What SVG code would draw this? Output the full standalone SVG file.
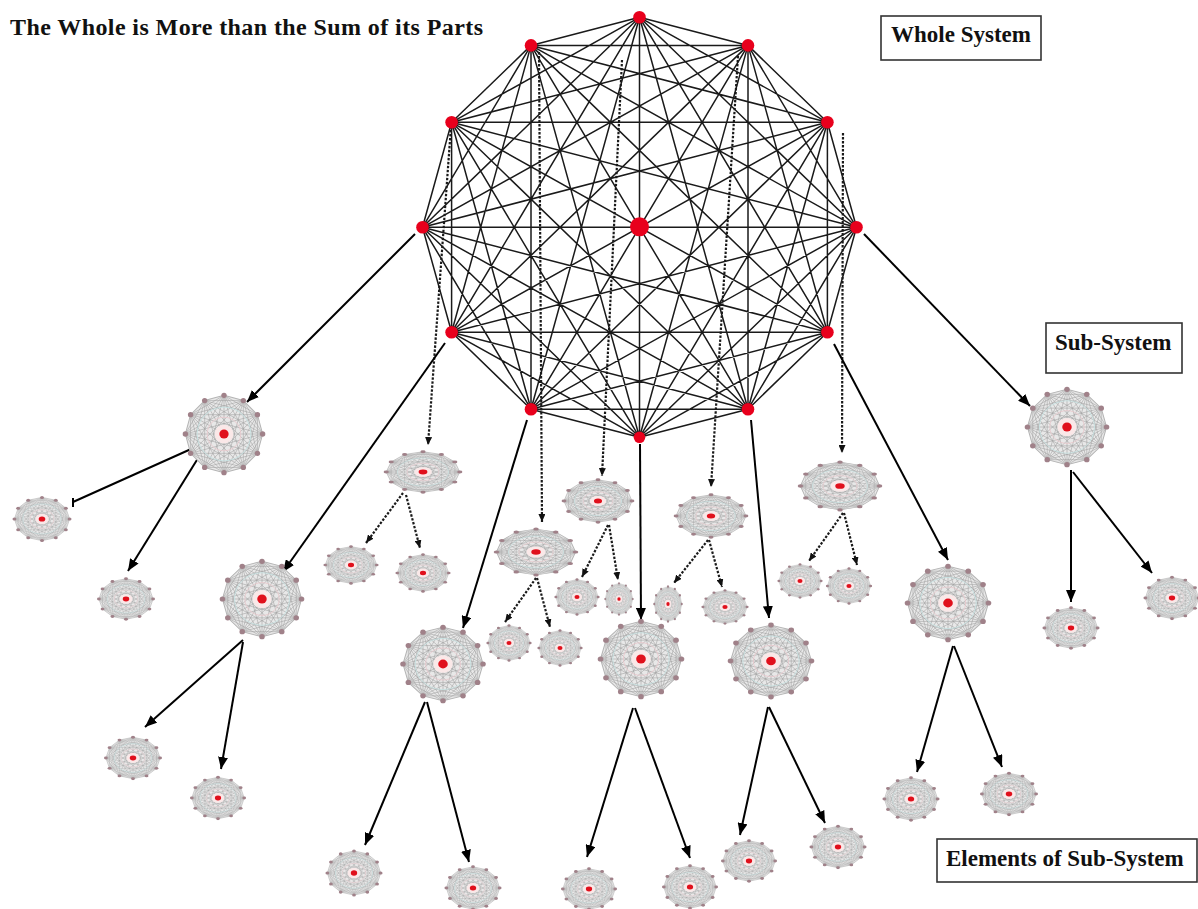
<svg xmlns="http://www.w3.org/2000/svg" xmlns:xlink="http://www.w3.org/1999/xlink" width="1198" height="909" viewBox="0 0 1198 909">
  <style>
    .lbl { font-family: "Liberation Serif", "Times New Roman", serif; font-weight: bold; fill: #111; }
    .box { fill: #fff; stroke: #333; stroke-width: 1.6; }
    .edge { fill: none; stroke: #1a1a1a; stroke-width: 1.5; stroke-linejoin: round; }
    .vdot { fill: #e8001c; }
    .solid { stroke: #000; stroke-width: 2; fill: none; marker-end: url(#ah); }
    .dot { stroke: #1a1a1a; stroke-width: 2.2; stroke-dasharray: 2.4 1.6; fill: none; marker-end: url(#ahs); }
  </style>
  <defs>
    <marker id="ah" viewBox="0 0 12 10" refX="12" refY="5" markerWidth="12" markerHeight="10" markerUnits="userSpaceOnUse" orient="auto">
      <path d="M0,0 L12,5 L0,10 Z" fill="#000"/>
    </marker>
    <marker id="ahs" viewBox="0 0 8 7" refX="8" refY="3.5" markerWidth="8" markerHeight="7" markerUnits="userSpaceOnUse" orient="auto">
      <path d="M0,0 L8,3.5 L0,7 Z" fill="#111"/>
    </marker>
    <!-- miniature complete graph used for sub-systems and their elements -->
    <symbol id="mini" viewBox="-50 -50 100 100" preserveAspectRatio="none">
      <polygon points="0,-46 23,-39.8 39.8,-23 46,0 39.8,23 23,39.8 0,46 -23,39.8 -39.8,23 -46,0 -39.8,-23 -23,-39.8" fill="#e8e8e8" stroke="#b4b4b4" stroke-width="1.2"/>
      <path fill="none" stroke="#a2a2a2" stroke-width="0.7" d="
        M0,-46 L23,39.8 L-39.8,-23 L46,0 L-39.8,23 L23,-39.8 L0,46 L-23,-39.8 L39.8,23 L-46,0 L39.8,-23 L-23,39.8 Z
        M0,-46 L39.8,-23 L39.8,23 L0,46 L-39.8,23 L-39.8,-23 Z
        M23,-39.8 L46,0 L23,39.8 L-23,39.8 L-46,0 L-23,-39.8 Z
        M0,-46 L46,0 L0,46 L-46,0 Z
        M23,-39.8 L39.8,23 L-23,39.8 L-39.8,-23 Z
        M39.8,-23 L23,39.8 L-39.8,23 L-23,-39.8 Z
        M0,-46 L39.8,23 L-39.8,23 Z
        M23,-39.8 L23,39.8 L-46,0 Z
        M39.8,-23 L0,46 L-39.8,-23 Z
        M46,0 L-23,39.8 L-23,-39.8 Z
        M0,-46 L0,46 M23,-39.8 L-23,39.8 M39.8,-23 L-39.8,23 M46,0 L-46,0 M39.8,23 L-39.8,-23 M23,39.8 L-23,-39.8"/>
      <circle r="32" fill="none" stroke="#c6e2e2" stroke-width="1"/>
      <circle r="20" fill="none" stroke="#e8c8cc" stroke-width="1"/>
      <circle r="11" fill="#fae8e8"/>
      <circle r="5.5" fill="#e0101c"/>
      <g fill="#a08189">
        <circle cx="0" cy="-46" r="3.2"/><circle cx="23" cy="-39.8" r="3.2"/><circle cx="39.8" cy="-23" r="3.2"/>
        <circle cx="46" cy="0" r="3.2"/><circle cx="39.8" cy="23" r="3.2"/><circle cx="23" cy="39.8" r="3.2"/>
        <circle cx="0" cy="46" r="3.2"/><circle cx="-23" cy="39.8" r="3.2"/><circle cx="-39.8" cy="23" r="3.2"/>
        <circle cx="-46" cy="0" r="3.2"/><circle cx="-39.8" cy="-23" r="3.2"/><circle cx="-23" cy="-39.8" r="3.2"/>
      </g>
    </symbol>
  </defs>

  <rect width="1198" height="909" fill="#fff"/>

  <!-- title and labels -->
  <text class="lbl" x="10" y="35" font-size="24" textLength="473" lengthAdjust="spacing">The Whole is More than the Sum of its Parts</text>

  <g id="label-whole">
    <rect class="box" x="881" y="16" width="160" height="44"/>
    <text class="lbl" x="891" y="42" font-size="23">Whole System</text>
  </g>
  <g id="label-sub">
    <rect class="box" x="1046" y="323" width="136" height="50"/>
    <text class="lbl" x="1055" y="350" font-size="23">Sub-System</text>
  </g>
  <g id="label-elements">
    <rect class="box" x="937" y="839" width="260" height="43"/>
    <text class="lbl" x="946" y="866" font-size="23">Elements of Sub-System</text>
  </g>

  <!-- whole system: complete graph on 12 vertices -->
  <g id="whole-system">
    <path class="edge" d="
      M639.5,17.3 L748,45.4 L827.4,122.3 L856.5,227.3 L827.4,332.3 L748,409.2 L639.5,437.3 L531,409.2 L451.6,332.3 L422.5,227.3 L451.6,122.3 L531,45.4 Z
      M639.5,17.3 L748,409.2 L451.6,122.3 L856.5,227.3 L451.6,332.3 L748,45.4 L639.5,437.3 L531,45.4 L827.4,332.3 L422.5,227.3 L827.4,122.3 L531,409.2 Z
      M639.5,17.3 L827.4,122.3 L827.4,332.3 L639.5,437.3 L451.6,332.3 L451.6,122.3 Z
      M748,45.4 L856.5,227.3 L748,409.2 L531,409.2 L422.5,227.3 L531,45.4 Z
      M639.5,17.3 L856.5,227.3 L639.5,437.3 L422.5,227.3 Z
      M748,45.4 L827.4,332.3 L531,409.2 L451.6,122.3 Z
      M827.4,122.3 L748,409.2 L451.6,332.3 L531,45.4 Z
      M639.5,17.3 L827.4,332.3 L451.6,332.3 Z
      M748,45.4 L748,409.2 L422.5,227.3 Z
      M827.4,122.3 L639.5,437.3 L451.6,122.3 Z
      M856.5,227.3 L531,409.2 L531,45.4 Z
      M639.5,17.3 L639.5,437.3 M748,45.4 L531,409.2 M827.4,122.3 L451.6,332.3
      M856.5,227.3 L422.5,227.3 M827.4,332.3 L451.6,122.3 M748,409.2 L531,45.4"/>
  </g>

  <!-- connectors -->
  <g id="connectors">
    <!-- dotted links from the whole system -->
    <path class="dot" d="M451,126 L428,445"/>
    <path class="dot" d="M539,52 L542,522"/>
    <path class="dot" d="M622,60 L602,476"/>
    <path class="dot" d="M738,56 L711,487"/>
    <path class="dot" d="M843,133 L842,453"/>
    <!-- dotted links to elements -->
    <path class="dot" d="M403,493 L366,543"/>
    <path class="dot" d="M406,495 L420,548"/>
    <path class="dot" d="M536,578 L505,622"/>
    <path class="dot" d="M537,578 L550,627"/>
    <path class="dot" d="M608,525 L582,577"/>
    <path class="dot" d="M609,525 L618,580"/>
    <path class="dot" d="M708,540 L674,583"/>
    <path class="dot" d="M709,540 L722,587"/>
    <path class="dot" d="M843,513 L809,561"/>
    <path class="dot" d="M844,513 L857,565"/>
    <!-- solid links from the whole system -->
    <path class="solid" d="M415,234 L247,402"/>
    <path class="solid" d="M445,343 L283,572"/>
    <path class="solid" d="M527,420 L463,628"/>
    <path class="solid" d="M640,444 L641,620"/>
    <path class="solid" d="M751,420 L769,618"/>
    <path class="solid" d="M834,344 L948,560"/>
    <path class="solid" d="M864,234 L1030,406"/>
    <!-- solid links to elements -->
    <path d="M200,445 L73,502 M73,498 L73,507" stroke="#000" stroke-width="2" fill="none"/>
    <path class="solid" d="M200,455 L128,571"/>
    <path class="solid" d="M243,640 L145,727"/>
    <path class="solid" d="M243,642 L221,769"/>
    <path class="solid" d="M425,702 L365,845"/>
    <path class="solid" d="M427,702 L469,862"/>
    <path class="solid" d="M633,708 L587,857"/>
    <path class="solid" d="M635,708 L690,858"/>
    <path class="solid" d="M768,707 L740,835"/>
    <path class="solid" d="M769,707 L825,823"/>
    <path class="solid" d="M953,646 L917,772"/>
    <path class="solid" d="M954,646 L1002,767"/>
    <path class="solid" d="M1071,470 L1071,602"/>
    <path class="solid" d="M1073,472 L1152,573"/>
  </g>

  <!-- whole system vertices -->
  <g id="whole-vertices" class="vdot">
    <circle cx="639.5" cy="17.3" r="6.3"/><circle cx="748" cy="45.4" r="6.3"/>
    <circle cx="827.4" cy="122.3" r="6.3"/><circle cx="856.5" cy="227.3" r="6.3"/>
    <circle cx="827.4" cy="332.3" r="6.3"/><circle cx="748" cy="409.2" r="6.3"/>
    <circle cx="639.5" cy="437.3" r="5.8"/><circle cx="531" cy="409.2" r="6.3"/>
    <circle cx="451.6" cy="332.3" r="6.3"/><circle cx="422.5" cy="227.3" r="6.3"/>
    <circle cx="451.6" cy="122.3" r="6.3"/><circle cx="531" cy="45.4" r="6.3"/>
    <circle cx="639.5" cy="226.8" r="9.5"/>
  </g>

  <!-- sub-systems -->
  <g id="sub-a"><use href="#mini" x="182" y="392" width="84" height="84"/></g>
  <g id="sub-b"><use href="#mini" x="1024" y="386" width="86" height="82"/></g>
  <g id="sub-c"><use href="#mini" x="383" y="450" width="80" height="44"/></g>
  <g id="sub-d"><use href="#mini" x="493" y="527" width="86" height="50"/></g>
  <g id="sub-e"><use href="#mini" x="561" y="478" width="74" height="46"/></g>
  <g id="sub-f"><use href="#mini" x="673" y="493" width="76" height="46"/></g>
  <g id="sub-g"><use href="#mini" x="797" y="460" width="86" height="52"/></g>
  <g id="sub-h"><use href="#mini" x="219" y="558" width="86" height="82"/></g>
  <g id="sub-i"><use href="#mini" x="399.5" y="624" width="87" height="80"/></g>
  <g id="sub-j"><use href="#mini" x="597" y="618" width="88" height="82"/></g>
  <g id="sub-k"><use href="#mini" x="727" y="622" width="88" height="78"/></g>
  <g id="sub-l"><use href="#mini" x="904" y="563" width="88" height="80"/></g>

  <!-- elements of sub-systems -->
  <g id="elem-a1"><use href="#mini" x="12" y="495.5" width="60" height="47"/></g>
  <g id="elem-a2"><use href="#mini" x="96.5" y="577" width="59" height="44"/></g>
  <g id="elem-c1"><use href="#mini" x="323" y="545" width="56" height="40"/></g>
  <g id="elem-c2"><use href="#mini" x="395" y="553" width="56" height="40"/></g>
  <g id="elem-d1"><use href="#mini" x="486" y="624" width="46" height="38"/></g>
  <g id="elem-d2"><use href="#mini" x="537" y="629" width="46" height="38"/></g>
  <g id="elem-e1"><use href="#mini" x="554" y="578" width="46" height="38"/></g>
  <g id="elem-e2"><use href="#mini" x="604" y="582" width="30" height="34"/></g>
  <g id="elem-f1"><use href="#mini" x="653" y="585" width="30" height="38"/></g>
  <g id="elem-f2"><use href="#mini" x="701" y="589" width="48" height="36"/></g>
  <g id="elem-g1"><use href="#mini" x="777" y="563" width="46" height="36"/></g>
  <g id="elem-g2"><use href="#mini" x="825.5" y="567" width="47" height="38"/></g>
  <g id="elem-h1"><use href="#mini" x="103.5" y="735.5" width="59" height="45"/></g>
  <g id="elem-h2"><use href="#mini" x="189.5" y="775.5" width="57" height="45"/></g>
  <g id="elem-i1"><use href="#mini" x="325" y="849" width="58" height="48"/></g>
  <g id="elem-i2"><use href="#mini" x="444" y="865" width="58" height="46"/></g>
  <g id="elem-j1"><use href="#mini" x="560.5" y="867" width="57" height="44"/></g>
  <g id="elem-j2"><use href="#mini" x="661.5" y="864" width="57" height="46"/></g>
  <g id="elem-k1"><use href="#mini" x="720.5" y="839" width="57" height="44"/></g>
  <g id="elem-k2"><use href="#mini" x="809" y="824.5" width="58" height="45"/></g>
  <g id="elem-l1"><use href="#mini" x="882" y="776" width="58" height="46"/></g>
  <g id="elem-l2"><use href="#mini" x="979.5" y="771.5" width="59" height="45"/></g>
  <g id="elem-b1"><use href="#mini" x="1042" y="606" width="58" height="44"/></g>
  <g id="elem-b2"><use href="#mini" x="1143" y="575.5" width="58" height="45"/></g>
</svg>
